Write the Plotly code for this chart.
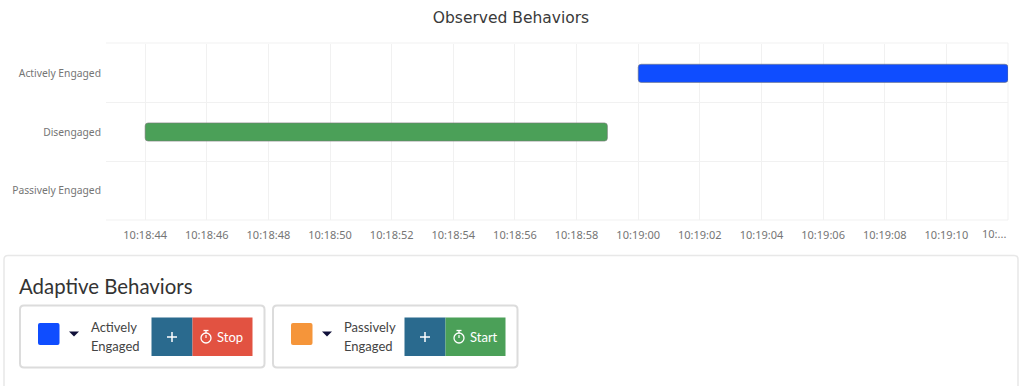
import plotly.graph_objects as go
from datetime import datetime, timedelta

DAY = "2020-01-01 "
categories = ["Actively Engaged", "Disengaged", "Passively Engaged"]
segment_labels = ["Disengaged", "Actively Engaged"]
segment_starts = ["10:18:44", "10:19:00"]
segment_ends = ["10:18:59", "10:19:12"]
segment_colors = ["#4ba058", "#0f4dff"]
tick_times = ["10:18:44", "10:18:46", "10:18:48", "10:18:50", "10:18:52", "10:18:54", "10:18:56",
              "10:18:58", "10:19:00", "10:19:02", "10:19:04", "10:19:06", "10:19:08", "10:19:10", "10:19:12"]
tick_labels = tick_times[:-1] + [""]

W, H = 1024, 386
L, R, T, B = 106, 16, 44, 166
PW, PH = W - L - R, H - T - B
GRID = "#f1f1f1"


def px(x):
    return (x - L) / PW


def py(y):
    return 1 - (y - T) / PH


def stamp(t):
    return datetime.strptime(DAY + t, "%Y-%m-%d %H:%M:%S")


def rrect(x0, y0, x1, y1, r=0.0):
    a, b, c, d = px(x0), py(y0), px(x1), py(y1)
    if r == 0:
        return f"M{a},{b}L{c},{b}L{c},{d}L{a},{d}Z"
    rx, ry = r / PW, r / PH
    return (f"M{a+rx},{b}L{c-rx},{b}Q{c},{b} {c},{b-ry}L{c},{d+ry}Q{c},{d} {c-rx},{d}"
            f"L{a+rx},{d}Q{a},{d} {a},{d+ry}L{a},{b-ry}Q{a},{b} {a+rx},{b}Z")


shapes = []


def add_path(path, fill="rgba(0,0,0,0)", line=None, lw=0, layer="above"):
    shapes.append(dict(type="path", xref="paper", yref="paper", path=path, fillcolor=fill,
                       line=dict(color=line or "rgba(0,0,0,0)", width=lw), layer=layer))


def add_line(x0, y0, x1, y1, color, lw, layer="above"):
    add_path(f"M{px(x0)},{py(y0)}L{px(x1)},{py(y1)}", line=color, lw=lw, layer=layer)


def add_circle(x0, y0, x1, y1, color, lw):
    shapes.append(dict(type="circle", xref="paper", yref="paper", x0=px(x0), y0=py(y1), x1=px(x1), y1=py(y0),
                       line=dict(color=color, width=lw), fillcolor="rgba(0,0,0,0)", layer="above"))


annotations = []


def add_text(x, y, text, size, color, anchor="left", family="Lato"):
    annotations.append(dict(xref="paper", yref="paper", x=px(x), y=py(y), text=text, showarrow=False,
                            xanchor=anchor, yanchor="middle", align=anchor, borderpad=0, borderwidth=0,
                            font=dict(family=family, size=size, color=color)))


# outer grid edges
add_line(106, 43, 1008, 43, GRID, 1, "below")
add_line(106, 220, 1008, 220, GRID, 1, "below")
add_line(1008, 43, 1008, 220, GRID, 1, "below")

# panel
add_path(rrect(4, 255.5, 1018, 400, 4), fill="#ffffff", line="#e8e8e8", lw=1.5)
add_text(19, 285.5, "Adaptive Behaviors", 20.4, "#333333")


def card(x, swatch, l1, l2, action, action_color):
    add_path(rrect(x, 305.5, x + 244.5, 367.5, 4), fill="#ffffff", line="#dcdcdc", lw=2)
    add_path(rrect(x + 18, 323, x + 39.5, 345, 2), fill=swatch)
    add_path(f"M{px(x+49)},{py(331.5)}L{px(x+59)},{py(331.5)}L{px(x+54)},{py(336.5)}Z", fill="#10103a")
    add_text(x + 71, 327, l1, 13, "#444444")
    add_text(x + 71, 346, l2, 13, "#444444")
    add_path(rrect(x + 131.5, 317.5, x + 172.5, 356, 0), fill="#2a6a8e")
    add_path(rrect(x + 172.5, 317.5, x + 232.5, 356, 0), fill=action_color)
    add_line(x + 147, 337, x + 157, 337, "#ffffff", 1.5)
    add_line(x + 152, 332, x + 152, 342, "#ffffff", 1.5)
    add_circle(x + 181, 333, x + 191, 343, "#ffffff", 1.3)
    add_line(x + 183.5, 330.5, x + 188.5, 330.5, "#ffffff", 1.3)
    add_line(x + 186, 330.5, x + 186, 333, "#ffffff", 1.3)
    add_line(x + 186, 335, x + 186, 338, "#ffffff", 1.2)
    add_text(x + 197, 336.5, action, 13, "#ffffff")


card(20, "#0f4dff", "Actively", "Engaged", "Stop", "#e25241")
card(273, "#f5953a", "Passively", "Engaged", "Start", "#4ba058")

add_text(1006, 233.5, "10:...", 11, "#757575", "right", "Noto Sans")

fig = go.Figure()
for lab, s, e, c in zip(segment_labels, segment_starts, segment_ends, segment_colors):
    fig.add_trace(go.Bar(
        y=[lab], base=[stamp(s)], x=[(stamp(e) - stamp(s)).total_seconds() * 1000], orientation="h",
        width=0.31, marker=dict(color=c, line=dict(color="#777777", width=0.6), cornerradius=3),
        showlegend=False))

fig.update_layout(
    width=W, height=H, margin=dict(l=L, r=R, t=T, b=B, pad=0), autosize=False,
    paper_bgcolor="#ffffff", plot_bgcolor="#ffffff", barmode="overlay",
    title=dict(text="Observed Behaviors", x=0.499, xanchor="center", y=0.955, yanchor="middle",
               font=dict(family="DejaVu Sans", size=15.5, color="#3a3a3a")),
    shapes=shapes, annotations=annotations,
    xaxis=dict(type="date", range=[stamp("10:18:44") - timedelta(seconds=1.27), stamp("10:19:12")],
               tickmode="array", tickvals=[stamp(t) for t in tick_times], ticktext=tick_labels,
               showgrid=True, gridcolor=GRID, gridwidth=1, ticks="", showline=False, zeroline=False,
               automargin=False, ticklabelstandoff=7,
               tickangle=0, tickfont=dict(family="Noto Sans", size=11, color="#757575")),
    yaxis=dict(type="category", categoryorder="array", categoryarray=categories, autorange=False,
               range=[2.5, -0.5], tickson="boundaries", showgrid=True, gridcolor=GRID, gridwidth=1,
               ticks="", showline=False, zeroline=False, ticklabelstandoff=4, automargin=False,
               tickfont=dict(family="Noto Sans", size=10.3, color="#757575")),
)

fig.write_html("out.html", config={"displayModeBar": False},
               post_script="document.body.style.margin='0';document.body.style.overflow='hidden';")
